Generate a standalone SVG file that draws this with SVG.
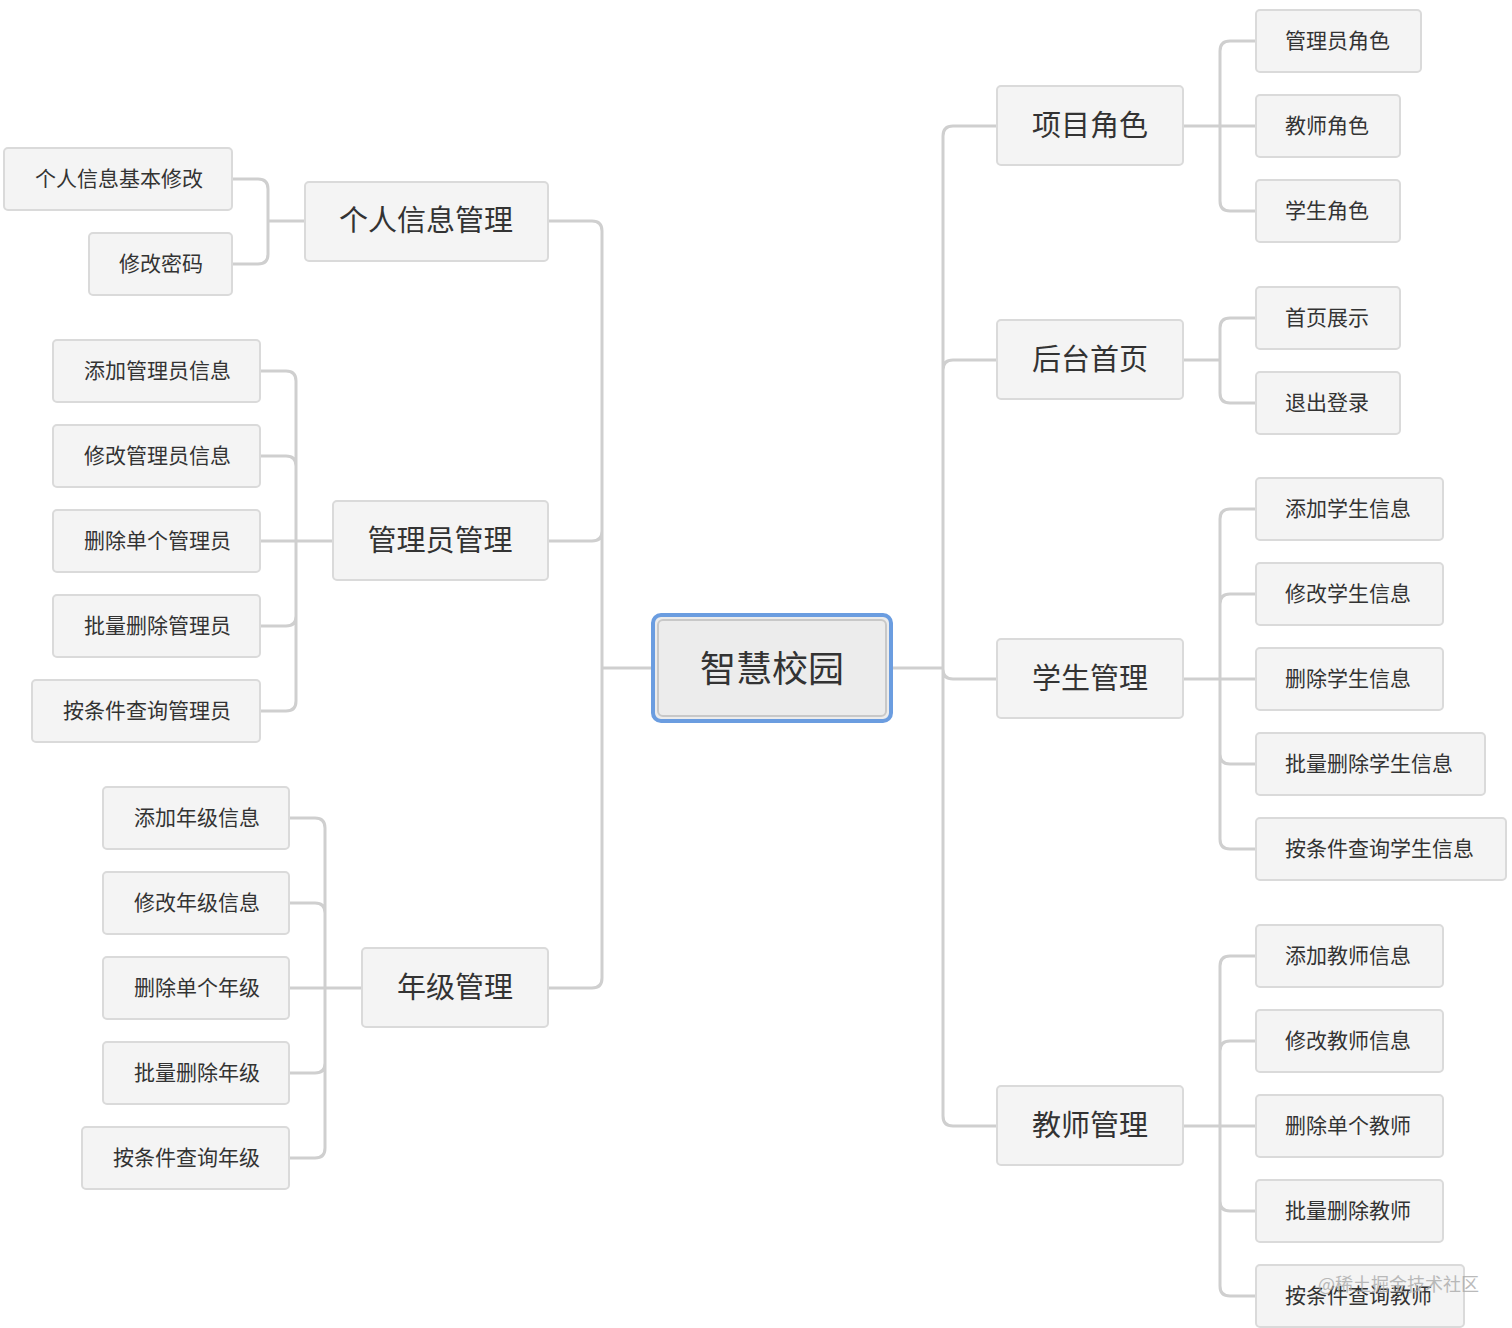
<svg xmlns="http://www.w3.org/2000/svg" width="1512" height="1328" viewBox="0 0 1512 1328">
<style>
.c{fill:none;stroke:#cfcfcf;stroke-width:3}
.b{fill:#f4f4f4;stroke:#dadada;stroke-width:2}
text{font-family:"Noto Sans CJK SC","Noto Sans",sans-serif;fill:#333}
.l{font-size:21px}
.p{font-size:29px;text-anchor:middle}
.e{text-anchor:end}
</style>
<rect width="1512" height="1328" fill="#fff"/>
<g id="connectors">
<path class="c" d="M652,668H602V231Q602,221 592,221H548M602,668V531Q602,541 592,541H548M602,668V978Q602,988 592,988H548"/>
<path class="c" d="M892,668H943V136Q943,126 953,126H997M943,668V370Q943,360 953,360H997M943,668V669Q943,679 953,679H997M943,668V1116Q943,1126 953,1126H997"/>
<path class="c" d="M305,221H268M268,221V189Q268,179 258,179H232M268,221V254Q268,264 258,264H232"/>
<path class="c" d="M333,541H260M296,541V381Q296,371 286,371H260M296,541V466Q296,456 286,456H260M296,541V616Q296,626 286,626H260M296,541V701Q296,711 286,711H260"/>
<path class="c" d="M362,988H289M325,988V828Q325,818 315,818H289M325,988V913Q325,903 315,903H289M325,988V1063Q325,1073 315,1073H289M325,988V1148Q325,1158 315,1158H289"/>
<path class="c" d="M1183,126H1256M1220,126V51Q1220,41 1230,41H1256M1220,126V201Q1220,211 1230,211H1256"/>
<path class="c" d="M1183,360H1220M1220,360V328Q1220,318 1230,318H1256M1220,360V393Q1220,403 1230,403H1256"/>
<path class="c" d="M1183,679H1256M1220,679V519Q1220,509 1230,509H1256M1220,679V604Q1220,594 1230,594H1256M1220,679V754Q1220,764 1230,764H1256M1220,679V839Q1220,849 1230,849H1256"/>
<path class="c" d="M1183,1126H1256M1220,1126V966Q1220,956 1230,956H1256M1220,1126V1051Q1220,1041 1230,1041H1256M1220,1126V1201Q1220,1211 1230,1211H1256M1220,1126V1286Q1220,1296 1230,1296H1256"/>
</g>
<g id="center"><rect x="653" y="615" width="238" height="106" rx="8" fill="#ececec" stroke="#6b9de0" stroke-width="4"/><rect x="658" y="620" width="228" height="96" rx="5" fill="none" stroke="#c8c8c8" stroke-width="2"/><text x="772" y="682" font-size="36" text-anchor="middle">智慧校园</text></g>
<g id="p1"><rect class="b" x="305" y="182" width="243" height="79" rx="4"/><text class="p" x="426" y="231">个人信息管理</text></g>
<g id="p2"><rect class="b" x="333" y="501" width="215" height="79" rx="4"/><text class="p" x="440" y="551">管理员管理</text></g>
<g id="p3"><rect class="b" x="362" y="948" width="186" height="79" rx="4"/><text class="p" x="455" y="998">年级管理</text></g>
<g id="p4"><rect class="b" x="997" y="86" width="186" height="79" rx="4"/><text class="p" x="1090" y="136">项目角色</text></g>
<g id="p5"><rect class="b" x="997" y="320" width="186" height="79" rx="4"/><text class="p" x="1090" y="370">后台首页</text></g>
<g id="p6"><rect class="b" x="997" y="639" width="186" height="79" rx="4"/><text class="p" x="1090" y="689">学生管理</text></g>
<g id="p7"><rect class="b" x="997" y="1086" width="186" height="79" rx="4"/><text class="p" x="1090" y="1136">教师管理</text></g>
<g id="l1"><rect class="b" x="4" y="148" width="228" height="62" rx="4"/><text class="l e" x="203" y="186">个人信息基本修改</text></g>
<g id="l2"><rect class="b" x="89" y="233" width="143" height="62" rx="4"/><text class="l e" x="203" y="271">修改密码</text></g>
<g id="l3"><rect class="b" x="53" y="340" width="207" height="62" rx="4"/><text class="l e" x="231" y="378">添加管理员信息</text></g>
<g id="l4"><rect class="b" x="53" y="425" width="207" height="62" rx="4"/><text class="l e" x="231" y="463">修改管理员信息</text></g>
<g id="l5"><rect class="b" x="53" y="510" width="207" height="62" rx="4"/><text class="l e" x="231" y="548">删除单个管理员</text></g>
<g id="l6"><rect class="b" x="53" y="595" width="207" height="62" rx="4"/><text class="l e" x="231" y="633">批量删除管理员</text></g>
<g id="l7"><rect class="b" x="32" y="680" width="228" height="62" rx="4"/><text class="l e" x="231" y="718">按条件查询管理员</text></g>
<g id="l8"><rect class="b" x="103" y="787" width="186" height="62" rx="4"/><text class="l e" x="260" y="825">添加年级信息</text></g>
<g id="l9"><rect class="b" x="103" y="872" width="186" height="62" rx="4"/><text class="l e" x="260" y="910">修改年级信息</text></g>
<g id="l10"><rect class="b" x="103" y="957" width="186" height="62" rx="4"/><text class="l e" x="260" y="995">删除单个年级</text></g>
<g id="l11"><rect class="b" x="103" y="1042" width="186" height="62" rx="4"/><text class="l e" x="260" y="1080">批量删除年级</text></g>
<g id="l12"><rect class="b" x="82" y="1127" width="207" height="62" rx="4"/><text class="l e" x="260" y="1165">按条件查询年级</text></g>
<g id="r1"><rect class="b" x="1256" y="10" width="165" height="62" rx="4"/><text class="l" x="1285" y="48">管理员角色</text></g>
<g id="r2"><rect class="b" x="1256" y="95" width="144" height="62" rx="4"/><text class="l" x="1285" y="133">教师角色</text></g>
<g id="r3"><rect class="b" x="1256" y="180" width="144" height="62" rx="4"/><text class="l" x="1285" y="218">学生角色</text></g>
<g id="r4"><rect class="b" x="1256" y="287" width="144" height="62" rx="4"/><text class="l" x="1285" y="325">首页展示</text></g>
<g id="r5"><rect class="b" x="1256" y="372" width="144" height="62" rx="4"/><text class="l" x="1285" y="410">退出登录</text></g>
<g id="r6"><rect class="b" x="1256" y="478" width="187" height="62" rx="4"/><text class="l" x="1285" y="516">添加学生信息</text></g>
<g id="r7"><rect class="b" x="1256" y="563" width="187" height="62" rx="4"/><text class="l" x="1285" y="601">修改学生信息</text></g>
<g id="r8"><rect class="b" x="1256" y="648" width="187" height="62" rx="4"/><text class="l" x="1285" y="686">删除学生信息</text></g>
<g id="r9"><rect class="b" x="1256" y="733" width="229" height="62" rx="4"/><text class="l" x="1285" y="771">批量删除学生信息</text></g>
<g id="r10"><rect class="b" x="1256" y="818" width="250" height="62" rx="4"/><text class="l" x="1285" y="856">按条件查询学生信息</text></g>
<g id="r11"><rect class="b" x="1256" y="925" width="187" height="62" rx="4"/><text class="l" x="1285" y="963">添加教师信息</text></g>
<g id="r12"><rect class="b" x="1256" y="1010" width="187" height="62" rx="4"/><text class="l" x="1285" y="1048">修改教师信息</text></g>
<g id="r13"><rect class="b" x="1256" y="1095" width="187" height="62" rx="4"/><text class="l" x="1285" y="1133">删除单个教师</text></g>
<g id="r14"><rect class="b" x="1256" y="1180" width="187" height="62" rx="4"/><text class="l" x="1285" y="1218">批量删除教师</text></g>
<g id="r15"><rect class="b" x="1256" y="1265" width="208" height="62" rx="4"/><text class="l" x="1285" y="1303">按条件查询教师</text></g>
<text x="1318" y="1291" font-size="18" style="fill:#aaa;opacity:0.8">@稀土掘金技术社区</text>
</svg>
